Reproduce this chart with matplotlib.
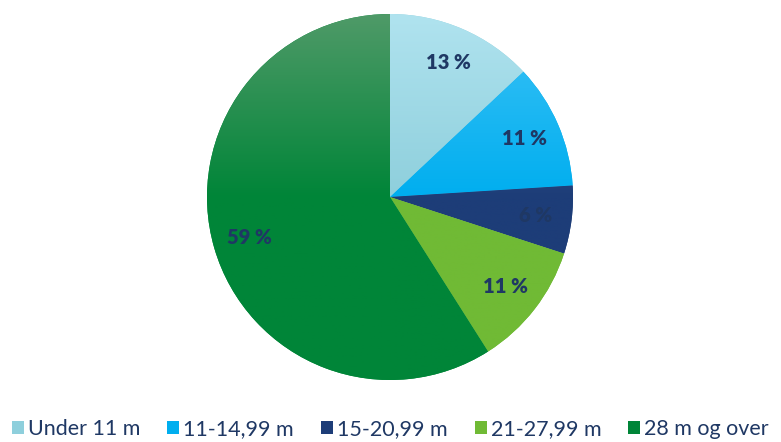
import matplotlib
matplotlib.use("Agg")
import matplotlib.pyplot as plt
import numpy as np
from matplotlib.colors import LinearSegmentedColormap, to_rgb

categories = ["Under 11 m", "11-14,99 m", "15-20,99 m", "21-27,99 m", "28 m og over"]
values = [13, 11, 6, 11, 59]
labels = ["13 %", "11 %", "6 %", "11 %", "59 %"]
top_colors = ["#b0e3ef", "#3cc2f6", "#4d6c9c", "#92cd5c", "#4f9a68"]
base_colors = ["#8ecfdc", "#00aeef", "#1d3d78", "#70ba35", "#008538"]
text_color = "#1f3864"

plt.rcParams['font.family'] = ['Lato', 'DejaVu Sans']

fig = plt.figure(figsize=(7.81, 4.42), dpi=100)
ax = fig.add_axes([207/781, (442-380)/442, 366/781, 366/442])
wedges, texts = ax.pie(values, colors=base_colors, startangle=90, counterclock=False,
                       labels=labels, labeldistance=0.8,
                       textprops=dict(color=text_color, fontsize=14.5, fontweight='heavy',
                                      ha='center', va='center'))
ax.set_xlim(-1, 1)
ax.set_ylim(-1, 1)
ax.set_aspect('equal')
ax.axis('off')

grad = np.linspace(1, 0, 256).reshape(-1, 1)
for w, tc, bc in zip(wedges, top_colors, base_colors):
    cmap = LinearSegmentedColormap.from_list("g", [bc, bc, tc])
    im = ax.imshow(grad, extent=(-1, 1, -1, 1), cmap=cmap, aspect='auto',
                   origin='upper', zorder=w.get_zorder() + 0.1)
    im.set_clip_path(w)
for t in texts:
    t.set_zorder(10)

handles = [plt.Rectangle((0, 0), 1, 1, facecolor=c, edgecolor='none') for c in base_colors]
leg = fig.legend(handles, categories, loc='center', ncol=5, frameon=False,
                 bbox_to_anchor=(0.5, 1 - 429/442), fontsize=15.5, handlelength=0.55,
                 handleheight=0.6, handletextpad=0.2, columnspacing=1.25,
                 borderaxespad=0.0, borderpad=0.0)
for t in leg.get_texts():
    t.set_color(text_color)

fig.savefig("out.png", dpi=100)
